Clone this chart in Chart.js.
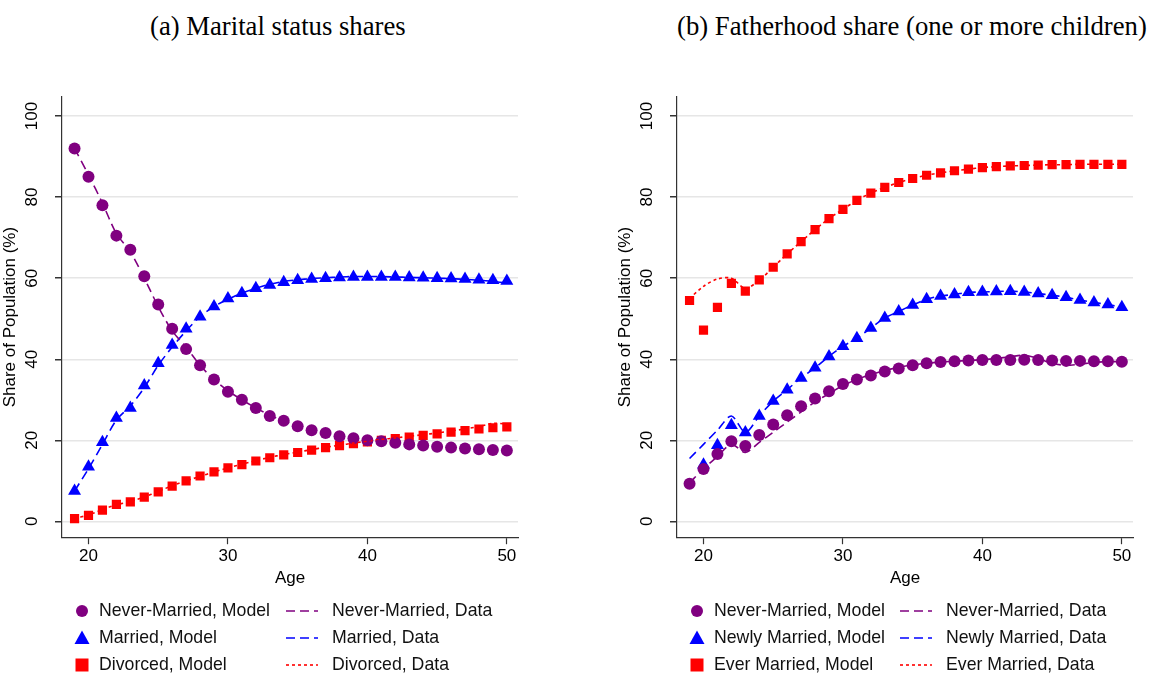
<!DOCTYPE html>
<html><head><meta charset="utf-8">
<script src="https://cdn.jsdelivr.net/npm/chart.js@4"></script>
<style>
body{margin:0;background:#fff;width:1161px;height:675px;position:relative;overflow:hidden;font-family:"Liberation Sans",Arial,sans-serif}
.title{position:absolute;top:11px;font-family:"Liberation Serif","Times New Roman",serif;font-size:26.7px;color:#000;white-space:nowrap}
.panel{position:absolute;top:89px;height:504px}
</style></head><body>
<div class="title" style="left:150px">(a) Marital status shares</div>
<div class="title" style="left:677px">(b) Fatherhood share (one or more children)</div>
<div class="panel" style="left:0;width:526px"><canvas id="c1" width="526" height="504"></canvas></div>
<div class="panel" style="left:615px;width:526px"><canvas id="c2" width="526" height="504"></canvas></div>
<canvas id="lg" width="1161" height="90" style="position:absolute;left:0;top:590px"></canvas>
<script>
const ages = Array.from({length: 32}, (_, i) => 19 + i);
const yTicks = [0, 20, 40, 60, 80, 100];
const xTicks = [20, 30, 40, 50];

// (a) marital status
const neverModelA = [92,85,78,70.5,67,60.5,53.5,47.5,42.5,38.5,35,32,30,28,26,24.8,23.5,22.5,21.8,21,20.5,20,19.8,19.4,19,18.7,18.4,18.2,18,17.8,17.6,17.5];
const neverDataA  = [92,85.5,78.5,71,66.5,60,53,47,43,38.5,35,32.2,30,28,26.2,24.8,23.5,22.5,21.6,21,20.5,20.1,19.8,19.5,19.2,18.8,18.5,18.2,18,17.8,17.6,17.4];
const marModelA = [7.5,13.5,19.5,25.5,28,33.5,39,43.5,47.5,50.5,53,55,56.3,57.5,58.3,59,59.5,59.8,60,60.2,60.3,60.3,60.3,60.3,60.2,60.1,60,59.9,59.8,59.6,59.5,59.3];
const marDataA  = [7.5,13,19,25,28.5,33,38.5,43,47,50.5,53,54.8,56.3,57.5,58.5,59.2,59.6,59.9,60.1,60.3,60.4,60.4,60.4,60.3,60.2,60.1,60,59.9,59.7,59.5,59.2,58.8];
const divModelA = [0.7,1.5,2.8,4.2,4.8,6,7.3,8.7,10,11.2,12.2,13.2,14,14.9,15.7,16.4,17,17.6,18.2,18.7,19.2,19.6,20,20.4,20.8,21.2,21.6,22,22.4,22.8,23.1,23.3];
const divDataA  = [0.7,1.6,2.9,4.1,4.9,6,7.4,8.8,10,11.1,12.2,13.2,14.1,15,15.8,16.5,17.1,17.7,18.3,18.8,19.3,19.8,20.2,20.6,21,21.4,21.8,22.3,22.8,23.4,24.2,24];

// (b) fatherhood
const neverModelB = [9.3,12.9,16.6,19.8,18.6,21.3,23.9,26.2,28.4,30.3,32.1,33.9,35,36,37,37.7,38.5,39,39.3,39.5,39.7,39.8,39.8,39.8,39.9,39.8,39.7,39.6,39.6,39.5,39.5,39.4];
const neverDataB  = [9.5,13,16,19,17,19.5,22,24.5,27,29.5,31.5,33.5,35,36.2,37.2,38,38.6,39,39.3,39.5,39.7,39.9,40.2,40.6,41,40.2,39,38.5,38.8,39.2,39.4,39.4];
const newModelB = [null,14,18.8,23.7,21.9,26,29.7,32.5,35.4,37.9,40.7,43.2,45.2,47.7,50.2,51.8,53.4,54.8,55.6,56,56.5,56.6,56.7,56.8,56.6,56.2,55.8,55.3,54.6,54,53.5,52.8];
const newDataB  = [15.5,19,22.5,26,22,26,29.7,32.5,35.4,37.9,40.7,43.2,45.2,47.7,50.2,51.8,53.4,54.8,55.6,56,56.5,56.6,56.7,56.8,56.6,56.2,55.8,55.3,54.6,54,53.5,52.8];
const everModelB = [54.5,47.2,52.8,58.7,56.8,59.6,62.7,66,69,72,74.7,77,79.2,81,82.4,83.6,84.6,85.4,86,86.5,86.9,87.3,87.5,87.7,87.8,87.9,88,88,88.1,88.1,88.1,88.1];
const everDataB  = [55,58,59.8,60,57.5,59.5,62.7,66,69,72,74.7,77,79.2,81,82.4,83.6,84.6,85.4,86,86.5,86.9,87.3,87.5,87.7,87.8,87.9,88,88,88.1,88.1,88.1,88.1];

const PURPLE = '#800080', BLUE = '#0000ff', RED = '#ff0000';

function xy(arr) { return ages.map((a, i) => ({x: a, y: arr[i]})); }
function model(arr, color, style, r) {
  return {data: xy(arr), showLine: false, pointStyle: style, pointRadius: r, pointBackgroundColor: color, pointBorderColor: color, pointBorderWidth: 0};
}
function line(arr, color, dash) {
  return {data: xy(arr), showLine: true, pointRadius: 0, borderColor: color, borderWidth: 1.6, borderDash: dash, tension: 0.3, spanGaps: true};
}

const yLabels = {
  id: 'yLabels',
  afterDraw(chart) {
    const ctx = chart.ctx, s = chart.scales.y;
    ctx.save();
    ctx.fillStyle = '#000';
    ctx.font = '17px "Liberation Sans", Arial, sans-serif';
    ctx.textAlign = 'center';
    ctx.textBaseline = 'middle';
    yTicks.forEach(v => {
      ctx.save();
      ctx.translate(s.left + 32, s.getPixelForValue(v));
      ctx.rotate(-Math.PI / 2);
      ctx.fillText(String(v), 0, 0);
      ctx.restore();
    });
    ctx.restore();
  }
};

function makeChart(id, datasets) {
  new Chart(document.getElementById(id), {
    type: 'scatter',
    data: {datasets},
    plugins: [yLabels],
    options: {
      responsive: false, animation: false,
      layout: {padding: {top: 8, right: 8, left: 0, bottom: 0}},
      plugins: {legend: {display: false}, tooltip: {enabled: false}},
      scales: {
        x: {
          min: 18.1, max: 50.8,
          afterBuildTicks: s => { s.ticks = xTicks.map(v => ({value: v})); },
          ticks: {color: '#000', font: {size: 17, family: '"Liberation Sans", Arial'}, padding: 2},
          grid: {display: true, drawOnChartArea: false, color: '#333', tickLength: 7, tickWidth: 1.2},
          border: {color: '#333', width: 1.2},
          title: {display: true, text: 'Age', color: '#000', font: {size: 17, family: '"Liberation Sans", Arial'}, padding: {top: 0}}
        },
        y: {
          min: -3.9, max: 104.7,
          afterBuildTicks: s => { s.ticks = yTicks.map(v => ({value: v})); },
          afterFit: s => { s.width = 62; },
          ticks: {display: false},
          grid: {color: '#e6e6e6', lineWidth: 1.5, tickLength: 7, tickColor: '#333'},
          border: {color: '#333', width: 1.2},
          title: {display: true, text: 'Share of Population (%)', color: '#000', font: {size: 17, family: '"Liberation Sans", Arial'}, padding: {top: 0, bottom: 0}}
        }
      }
    }
  });
}

makeChart('c1', [
  line(neverDataA, PURPLE, [9, 5]), line(marDataA, BLUE, [9, 5]), line(divDataA, RED, [3, 3]),
  model(neverModelA, PURPLE, 'circle', 6), model(marModelA, BLUE, 'triangle', 7.5), model(divModelA, RED, 'rect', 6.5)
]);
makeChart('c2', [
  line(neverDataB, PURPLE, [9, 5]), line(newDataB, BLUE, [9, 5]), line(everDataB, RED, [3, 3]),
  model(neverModelB, PURPLE, 'circle', 6), model(newModelB, BLUE, 'triangle', 7.5), model(everModelB, RED, 'rect', 6.5)
]);

// legends
const legendA = ['Never-Married', 'Married', 'Divorced'];
const legendB = ['Never-Married', 'Newly Married', 'Ever Married'];
const colors = [PURPLE, BLUE, RED];
const styles = ['circle', 'triangle', 'rect'];
const dashes = [[9, 5], [9, 5], [3, 3]];
const lg = document.getElementById('lg').getContext('2d');
lg.font = '17.7px "Liberation Sans", Arial, sans-serif';
lg.textBaseline = 'middle';
function marker(x, y, st, c) {
  lg.fillStyle = c;
  lg.beginPath();
  if (st === 'circle') lg.arc(x, y, 6, 0, Math.PI * 2);
  else if (st === 'triangle') { lg.moveTo(x, y - 7.5); lg.lineTo(x + 7.5, y + 6); lg.lineTo(x - 7.5, y + 6); lg.closePath(); }
  else lg.rect(x - 6.5, y - 6.5, 13, 13);
  lg.fill();
}
function legend(names, x0, x1) {
  names.forEach((n, i) => {
    const y = 21 + i * 27;
    marker(x0, y, styles[i], colors[i]);
    lg.fillStyle = '#111';
    lg.fillText(n + ', Model', x0 + 17, y);
    lg.strokeStyle = colors[i]; lg.lineWidth = 1.6; lg.setLineDash(dashes[i]);
    lg.beginPath(); lg.moveTo(x1, y); lg.lineTo(x1 + 32, y); lg.stroke();
    lg.setLineDash([]);
    lg.fillText(n + ', Data', x1 + 46, y);
  });
}
legend(legendA, 82, 286);
legend(legendB, 697, 900);
</script>
</body></html>
